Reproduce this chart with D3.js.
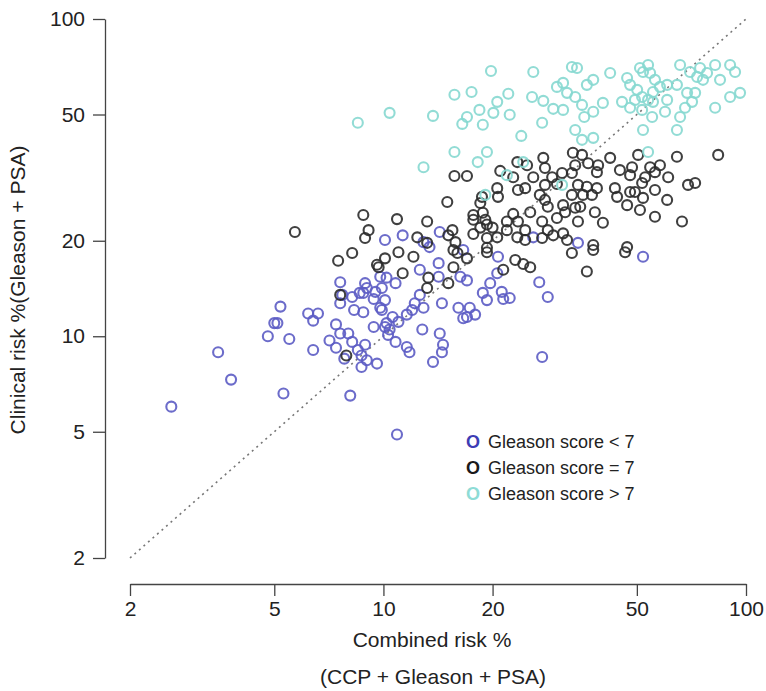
<!DOCTYPE html>
<html>
<head>
<meta charset="utf-8">
<script src="https://d3js.org/d3.v7.min.js"></script>
<style>
body { margin:0; background:white; }
svg text { font-family: "Liberation Sans", Arial, sans-serif; fill:#222; }
.axis path, .axis line { stroke:#444; stroke-width:1.3; }
.axis text { font-size:21px; fill:#222; }
</style>
</head>
<body>
<svg id="chart" width="766" height="691"></svg>
<script>
// [combined risk %, clinical risk %]
var gleasonLow = [
 [2.6,6.0],[3.5,8.9],[3.8,7.3],[4.8,10.0],[5.5,9.8],[5.0,11.0],[5.1,11.0],[5.2,12.4],[5.3,6.6],
 [6.2,11.8],[6.6,11.8],[6.4,11.2],[6.4,9.05],[7.1,9.7],[7.4,10.9],[7.6,10.2],[8.0,10.2],[7.4,9.2],
 [7.8,8.5],[8.1,6.5],[7.6,14.8],[7.7,13.5],[8.2,13.3],[7.6,12.7],[8.3,12.1],[8.2,9.6],[8.5,9.05],
 [8.7,8.7],[8.9,9.4],[9.0,8.4],[9.6,8.2],[8.7,8.0],[10.9,4.9],[9.4,10.7],[8.6,13.7],[9.0,14.2],
 [9.5,13.8],[9.9,14.2],[10.2,15.3],[10.8,14.7],[10.1,13.0],[9.9,12.1],[10.6,11.5],[10.2,11.0],
 [10.4,10.5],[10.3,10.1],[10.8,9.6],[11.6,9.25],[11.8,8.9],[11.6,11.7],[12.9,12.3],[12.8,10.5],
 [14.3,10.2],[14.6,9.4],[14.5,8.9],[13.7,8.3],[14.5,12.7],[12.6,16.2],[14.2,15.4],[14.2,17.0],
 [14.3,21.3],[11.3,20.8],[10.1,20.1],[12.9,19.8],[13.4,19.1],[16.6,18.7],[17.0,15.0],[16.1,12.3],
 [17.3,12.3],[17.0,11.5],[19.7,14.7],[18.8,13.7],[19.3,13.0],[20.7,17.8],[27.4,8.6],[28.4,13.3],
 [26.9,14.8],[20.6,15.8],[21.2,13.8],[21.4,13.1],[22.3,13.2],[17.9,11.7],[16.6,11.4],[11.0,11.1],
 [10.1,10.7],[9.8,12.3],[9.4,13.1],[8.9,14.7],[8.8,13.7],[8.8,11.9],[9.8,15.4],[12.2,12.7],
 [12.0,12.1],[12.6,13.5],[16.3,15.4],[25.9,20.5],[34.4,19.7],[52.0,17.8]
];
var gleasonEq = [
 [5.7,21.3],[7.5,17.3],[8.2,18.3],[7.9,8.7],[7.6,13.5],[8.8,24.1],[10.9,23.4],[13.2,23.0],[9.1,21.6],
 [8.9,20.4],[9.7,16.5],[11.3,15.8],[10.1,17.6],[11.0,18.4],[12.1,17.8],[13.3,15.3],[15.1,14.7],
 [15.6,16.5],[15.1,20.8],[15.5,21.6],[17.7,21.0],[19.3,19.0],[17.7,24.1],[18.8,24.5],[19.3,22.5],
 [15.6,18.7],[13.2,19.7],[15.7,32.0],[17.0,32.0],[21.0,33.2],[23.4,35.4],[24.9,34.6],[27.6,36.5],
 [27.9,33.9],[22.8,31.7],[25.9,31.7],[29.2,31.7],[30.1,30.2],[20.6,29.3],[23.5,28.9],[24.6,29.3],
 [27.9,30.0],[27.0,27.9],[20.7,27.5],[18.7,27.5],[18.5,26.3],[27.9,26.9],[15.0,26.5],[25.4,24.6],
 [28.4,25.6],[17.7,23.3],[19.1,23.3],[22.8,24.3],[21.9,23.0],[23.5,23.0],[27.4,23.0],[30.1,23.6],
 [18.5,22.0],[20.0,22.0],[21.9,21.6],[24.6,21.6],[28.4,21.6],[12.4,20.5],[20.6,20.5],[23.4,20.5],
 [24.6,20.1],[27.4,20.4],[29.4,20.8],[15.8,19.8],[19.3,20.4],[33.3,37.9],[35.3,37.3],[33.8,34.6],
 [36.7,35.1],[39.1,34.6],[42.2,36.5],[50.4,37.3],[64.5,36.8],[83.8,37.3],[44.9,33.4],[48.5,34.1],
 [47.9,32.2],[54.4,34.1],[57.9,34.6],[56.1,32.9],[61.0,31.7],[52.7,31.7],[51.7,30.4],[38.8,32.9],
 [33.1,32.7],[31.1,32.7],[34.4,30.0],[36.4,29.6],[38.8,29.3],[43.5,29.3],[47.9,28.5],[49.4,28.5],
 [56.1,28.9],[69.2,30.0],[72.4,30.4],[33.1,27.9],[35.5,27.9],[37.6,27.9],[44.1,27.5],[52.0,27.3],
 [60.6,26.9],[31.3,25.9],[33.8,25.4],[34.9,25.6],[38.3,24.6],[47.0,25.9],[51.0,25.0],[56.1,23.8],
 [66.6,23.0],[34.4,23.0],[40.3,22.8],[31.3,21.1],[32.1,20.1],[37.9,19.4],[47.0,19.1],[31.7,24.6],
 [9.6,16.8],[16.0,18.3],[17.0,17.6],[19.3,18.4],[23.1,17.4],[24.3,16.9],[25.4,16.5],[21.4,16.2],
 [13.2,14.2],[33.1,18.3],[36.4,16.0],[46.4,18.4],[37.9,18.7]
];
var gleasonHigh = [
 [8.5,47.1],[10.4,50.6],[13.7,49.5],[19.8,68.6],[25.9,68.1],[15.7,57.7],[17.5,58.9],[22.1,58.1],
 [25.7,56.8],[27.6,55.2],[30.1,61.1],[29.4,52.1],[20.6,54.8],[18.4,51.7],[20.1,50.6],[22.3,49.9],
 [17.0,49.1],[16.5,46.7],[18.8,46.4],[27.4,47.1],[24.0,42.8],[15.7,38.1],[19.3,38.1],[18.2,35.4],
 [12.9,34.1],[24.3,35.4],[21.9,32.2],[19.1,27.9],[33.1,70.6],[34.2,70.1],[42.2,67.6],[51.0,70.1],
 [53.7,71.6],[52.0,68.1],[54.4,67.6],[65.8,71.6],[74.7,70.1],[82.2,71.6],[90.4,71.6],[93.3,68.1],
 [70.1,68.1],[78.1,67.6],[73.3,65.7],[84.8,64.3],[76.1,64.3],[31.3,62.9],[36.4,62.0],[37.9,64.3],
 [47.0,65.2],[47.9,62.0],[56.1,64.3],[57.9,61.1],[60.6,62.0],[64.5,62.0],[50.1,59.8],[32.1,58.5],
 [33.8,56.8],[51.7,56.8],[55.4,58.9],[49.4,55.6],[53.7,55.6],[45.5,54.8],[47.9,52.5],[40.3,54.4],
 [35.3,53.6],[37.9,51.0],[35.8,49.1],[31.3,51.7],[51.7,51.7],[55.4,54.8],[60.6,55.6],[59.8,51.0],
 [55.1,49.1],[68.8,58.5],[72.4,58.5],[71.0,54.8],[67.9,52.5],[65.8,49.1],[82.2,52.5],[90.4,56.8],
 [96.3,58.5],[33.8,44.7],[37.9,42.2],[35.3,41.6],[52.0,44.7],[64.5,44.7],[53.7,38.1],[31.1,30.0]
];
var axisTicks = [2, 5, 10, 20, 50, 100];
var legendLabels = ["Gleason score < 7", "Gleason score = 7", "Gleason score > 7"];
var pointColors = ["#5c5cc4", "#2b2b2b", "#86d8d0"];
var legendColors = ["#3d3db4", "#1a1a1a", "#8edcd6"];

var svg = d3.select("#chart");
var x = d3.scaleLog().domain([2, 100]).range([130, 746]);
var y = d3.scaleLog().domain([2, 100]).range([558, 19]);

svg.append("g").attr("class", "axis")
  .attr("transform", "translate(105,0)")
  .call(d3.axisLeft(y).tickValues(axisTicks).tickFormat(d3.format("d")).tickSize(12).tickSizeOuter(0).tickPadding(8));

svg.append("g").attr("class", "axis")
  .attr("transform", "translate(0,584)")
  .call(d3.axisBottom(x).tickValues(axisTicks).tickFormat(d3.format("d")).tickSize(12).tickSizeOuter(0).tickPadding(5));

// y = x reference
svg.append("line")
  .attr("x1", x(2)).attr("y1", y(2)).attr("x2", x(100)).attr("y2", y(100))
  .attr("stroke", "#777").attr("stroke-width", 1.6).attr("stroke-dasharray", "2,4");

var groups = [gleasonLow, gleasonEq, gleasonHigh];
groups.forEach(function(g, i) {
  svg.append("g").selectAll("circle").data(g).enter().append("circle")
    .attr("cx", function(d) { return x(d[0]); })
    .attr("cy", function(d) { return y(d[1]); })
    .attr("r", 5)
    .attr("fill", "none")
    .attr("stroke", pointColors[i])
    .attr("stroke-width", 2.1)
    .attr("stroke-opacity", 0.9);
});

svg.append("text").attr("x", 432).attr("y", 647).attr("text-anchor", "middle")
  .style("font-size", "21px").text("Combined risk %");
svg.append("text").attr("x", 433).attr("y", 684).attr("text-anchor", "middle")
  .style("font-size", "21px").text("(CCP + Gleason + PSA)");
svg.append("text").attr("transform", "translate(25,290) rotate(-90)").attr("text-anchor", "middle")
  .style("font-size", "21px").text("Clinical risk %(Gleason + PSA)");

var leg = svg.append("g").attr("transform", "translate(466,448)");
legendLabels.forEach(function(l, i) {
  var row = leg.append("text").attr("x", 0).attr("y", i * 26).style("font-size", "18px");
  row.append("tspan").style("font-weight", "bold").style("fill", legendColors[i]).text("O");
  row.append("tspan").attr("dx", 3).style("fill", "#222").text(" " + l);
});
</script>
</body>
</html>
